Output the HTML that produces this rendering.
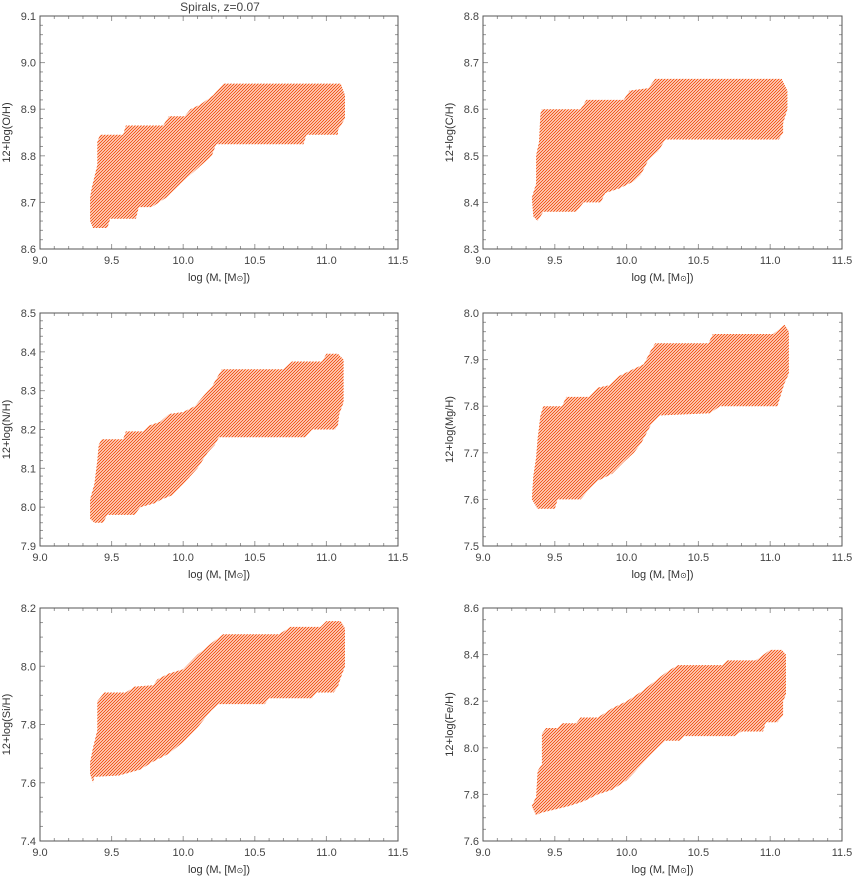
<!DOCTYPE html>
<html><head><meta charset="utf-8"><style>
html,body{margin:0;padding:0;background:#fff;}
svg{display:block;font-family:"Liberation Sans",sans-serif;}
</style></head><body>
<svg id="fig" width="854" height="877" viewBox="0 0 854 877" xmlns="http://www.w3.org/2000/svg">
<defs>
<pattern id="hatch" patternUnits="userSpaceOnUse" width="3" height="3">
<path d="M-1,1 l2,-2 M0,3 l3,-3 M2,4 l2,-2" stroke="#f4581a" stroke-width="1.2"/>
</pattern>
</defs>
<text x="220" y="11" text-anchor="middle" font-size="12" fill="#444">Spirals, z=0.07</text>
</svg>
<script>
// x axis (shared)
const xTicks = [9.0, 9.5, 10.0, 10.5, 11.0, 11.5];
const xTickLabels = ["9.0","9.5","10.0","10.5","11.0","11.5"];
// panel names / y labels
const panelNames = ["oh","ch","nh","mgh","sih","feh"];
const yLabels = ["12+log(O/H)","12+log(C/H)","12+log(N/H)","12+log(Mg/H)","12+log(Si/H)","12+log(Fe/H)"];
const yMins = [8.6, 8.3, 7.9, 7.5, 7.4, 7.6];
const yMaxs = [9.1, 8.8, 8.5, 8.0, 8.2, 8.6];
const yTickSteps = [0.1, 0.1, 0.1, 0.1, 0.2, 0.2];
// region outlines (mass, abundance)
const ohX = [9.35,9.35,9.36,9.40,9.40,9.42,9.58,9.60,9.86,9.90,10.01,10.05,10.12,10.21,10.28,11.10,11.13,11.13,11.08,11.08,10.86,10.84,10.23,10.20,10.09,9.98,9.88,9.78,9.69,9.67,9.49,9.47,9.37];
const ohY = [8.66,8.71,8.73,8.78,8.83,8.845,8.845,8.865,8.865,8.885,8.885,8.90,8.91,8.93,8.955,8.955,8.93,8.88,8.855,8.845,8.845,8.825,8.825,8.80,8.77,8.74,8.71,8.69,8.69,8.665,8.665,8.645,8.645];
const chX = [9.35,9.34,9.37,9.37,9.39,9.40,9.41,9.68,9.72,9.98,10.02,10.15,10.20,11.08,11.12,11.12,11.09,11.09,11.06,10.27,10.22,10.15,10.10,10.05,9.95,9.85,9.82,9.70,9.65,9.42,9.38];
const chY = [8.37,8.41,8.44,8.50,8.53,8.59,8.60,8.60,8.62,8.62,8.64,8.645,8.665,8.665,8.64,8.60,8.57,8.55,8.535,8.535,8.51,8.49,8.46,8.445,8.43,8.42,8.40,8.40,8.38,8.38,8.36];
const nhX = [9.35,9.35,9.38,9.40,9.41,9.43,9.58,9.60,9.72,9.76,9.84,9.90,10.00,10.08,10.15,10.20,10.27,10.70,10.76,10.97,11.00,11.08,11.12,11.12,11.09,11.08,11.06,10.90,10.85,10.25,10.22,10.17,10.10,10.00,9.92,9.85,9.80,9.70,9.66,9.47,9.44,9.38];
const nhY = [7.97,8.02,8.06,8.12,8.16,8.175,8.175,8.195,8.195,8.21,8.22,8.24,8.245,8.26,8.29,8.31,8.355,8.355,8.375,8.375,8.395,8.395,8.38,8.27,8.24,8.21,8.20,8.20,8.18,8.18,8.16,8.14,8.10,8.06,8.03,8.02,8.01,8.00,7.98,7.98,7.96,7.96];
const mghX = [9.34,9.35,9.37,9.38,9.40,9.42,9.55,9.58,9.74,9.80,9.88,9.95,10.05,10.12,10.17,10.20,10.57,10.60,11.02,11.10,11.13,11.13,11.10,11.08,11.05,10.65,10.58,10.23,10.17,10.10,10.05,9.98,9.90,9.80,9.75,9.68,9.52,9.50,9.38];
const mghY = [7.60,7.65,7.69,7.73,7.78,7.80,7.80,7.82,7.82,7.84,7.845,7.865,7.88,7.89,7.92,7.935,7.935,7.955,7.955,7.975,7.96,7.87,7.85,7.83,7.80,7.80,7.785,7.78,7.76,7.72,7.70,7.68,7.655,7.64,7.625,7.60,7.60,7.58,7.58];
const sihX = [9.35,9.35,9.37,9.40,9.40,9.45,9.60,9.66,9.79,9.82,9.90,10.00,10.10,10.20,10.28,10.67,10.75,10.96,11.00,11.10,11.13,11.13,11.10,11.08,11.05,10.93,10.90,10.60,10.57,10.25,10.20,10.10,10.00,9.90,9.78,9.70,9.55,9.38,9.37];
const sihY = [7.63,7.67,7.72,7.78,7.88,7.91,7.91,7.93,7.935,7.955,7.975,7.99,8.04,8.08,8.11,8.11,8.135,8.135,8.155,8.155,8.13,8.00,7.96,7.93,7.91,7.91,7.89,7.89,7.87,7.87,7.85,7.79,7.74,7.70,7.67,7.645,7.625,7.62,7.60];
const fehX = [9.34,9.37,9.38,9.41,9.41,9.44,9.52,9.55,9.65,9.68,9.80,9.90,10.00,10.10,10.29,10.36,10.67,10.70,10.90,11.00,11.08,11.11,11.11,11.09,11.09,11.05,10.97,10.95,10.80,10.75,10.40,10.37,10.27,10.20,10.00,9.90,9.80,9.70,9.60,9.50,9.40,9.37];
const fehY = [7.75,7.79,7.90,7.93,8.06,8.085,8.085,8.105,8.105,8.13,8.13,8.17,8.20,8.24,8.33,8.355,8.355,8.375,8.375,8.42,8.42,8.40,8.23,8.20,8.14,8.11,8.11,8.07,8.07,8.05,8.05,8.03,8.03,7.99,7.86,7.82,7.80,7.77,7.75,7.735,7.72,7.71];
const regionX = [ohX, chX, nhX, mghX, sihX, fehX];
const regionY = [ohY, chY, nhY, mghY, sihY, fehY];

const NS = "http://www.w3.org/2000/svg";
const svg = document.getElementById("fig");
const colLeft = [40, 483], colW = [358, 359];
const rowTop = [16, 313, 608], rowH = 233;
const XMIN = 9.0, XMAX = 11.5;

function mk(tag, attrs, parent) {
  const e = document.createElementNS(NS, tag);
  for (const k in attrs) e.setAttribute(k, attrs[k]);
  parent.appendChild(e);
  return e;
}

panelNames.forEach((pn, i) => {
  const L = colLeft[i % 2], W = colW[i % 2], T = rowTop[Math.floor(i / 2)], H = rowH;
  const y0 = yMins[i], y1 = yMaxs[i], step = yTickSteps[i];
  const sx = v => L + (v - XMIN) / (XMAX - XMIN) * W;
  const sy = v => T + H - (v - y0) / (y1 - y0) * H;
  const g = mk("g", {}, svg);
  
  

  const pts = regionX[i].map((x, k) => sx(x).toFixed(1) + "," + sy(regionY[i][k]).toFixed(1)).join(" ");
  const poly = mk("polygon", {points: pts, fill: "url(#hatch)"}, g);
  
  

  const tg = mk("g", {stroke: "#999", "stroke-width": 1}, g);
  
  
  for (let k = 0; k <= 25; k++) {
    const x = sx(XMIN + k * 0.1), len = (k % 5 === 0) ? 5 : 3;
    mk("line", {x1: x, x2: x, y1: T + H, y2: T + H - len}, tg);
    mk("line", {x1: x, x2: x, y1: T, y2: T + len}, tg);
  }
  const nMinor = step > 0.15 ? 4 : 5;
  const nMaj = Math.round((y1 - y0) / step);
  for (let k = 0; k <= nMaj * nMinor; k++) {
    const y = sy(y0 + k * step / nMinor), len = (k % nMinor === 0) ? 5 : 3;
    mk("line", {x1: L, x2: L + len, y1: y, y2: y}, tg);
    mk("line", {x1: L + W, x2: L + W - len, y1: y, y2: y}, tg);
  }
  const fr = mk("rect", {x: L, y: T, width: W, height: H, fill: "none", stroke: "#555", "stroke-width": 1}, g);
  
  

  xTicks.forEach((v, k) => {
    const t = mk("text", {x: sx(v), y: T + H + 15, "text-anchor": "middle", "font-size": 11, fill: "#444"}, g);
    t.textContent = xTickLabels[k];
    
    
  });
  for (let k = 0; k <= nMaj; k++) {
    const v = y0 + k * step;
    const t = mk("text", {x: L - 4, y: sy(v) + 4, "text-anchor": "end", "font-size": 11, fill: "#444"}, g);
    t.textContent = v.toFixed(1);
    
    
  }
  const xt = mk("text", {x: L + W / 2, y: T + H + 32, "text-anchor": "middle", "font-size": 11, fill: "#333"}, g);
  xt.innerHTML = 'log (M<tspan font-size="7" dy="3">*</tspan><tspan dy="-3"> [M</tspan><tspan font-size="8">⊙</tspan>])';
  
  
  const yx = L - 30, yy = T + H / 2;
  const yt = mk("text", {x: yx, y: yy, "text-anchor": "middle", "font-size": 11, fill: "#333", transform: "rotate(-90 " + yx + " " + yy + ")"}, g);
  yt.textContent = yLabels[i];
  
  
});
</script>
</body></html>
